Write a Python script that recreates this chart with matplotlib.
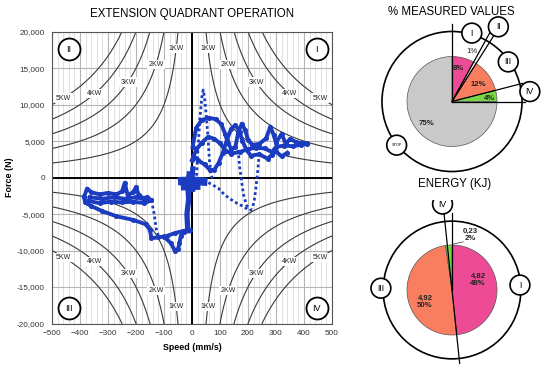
import matplotlib
matplotlib.use('Agg')
import matplotlib.pyplot as plt
import numpy as np
from matplotlib.patches import Circle
from matplotlib.ticker import MultipleLocator, FuncFormatter

plt.rcParams['font.family'] = ['Liberation Sans', 'DejaVu Sans']

# ---- data ----
powers_kw = [1, 2, 3, 4, 5]
label_forces = [17700, 15500, 13100, 11500, 10900]   # where the kW labels sit on the curves
x_ticks = np.arange(-500, 501, 100)
y_ticks = np.arange(-20000, 20001, 5000)

# measured traces (speed mm/s, force N)
q3_band_low = [(-385, -2600), (-382, -3400), (-360, -3900), (-320, -4600), (-270, -5300),
               (-210, -5800), (-165, -6400), (-150, -7200), (-145, -8300), (-120, -8200),
               (-90, -8000), (-60, -7600), (-30, -7300), (-8, -7200)]
q3_loop_top = [(-385, -2600), (-375, -1500), (-360, -2000), (-330, -2300), (-300, -2100),
               (-270, -2300), (-250, -1900), (-240, -700), (-230, -2400), (-210, -2000),
               (-200, -1300), (-190, -2400), (-175, -2800), (-160, -2700), (-145, -3100)]
q3_loop_mid = [(-370, -3200), (-330, -3500), (-290, -3300), (-250, -3400), (-210, -3300),
               (-170, -3500), (-145, -3100)]
q3_loop_inner = [(-365, -2700), (-320, -2900), (-280, -2700), (-240, -2900), (-200, -2700),
                 (-165, -3000)]
q3_loop_down = [(-100, -8100), (-75, -9000), (-62, -10000), (-50, -9800), (-45, -9000),
                (-40, -8000), (-30, -7400)]
core_vert = [(-15, -7300), (-18, -5000), (-12, -3000), (-15, -1000), (-10, 500)]
core_stem = [(2, -1600), (0, 0), (3, 1200)]
core_bar1 = [(-50, -500), (0, -400), (55, -600)]
core_bar2 = [(-40, -1200), (30, -1100)]
q1_a = [(2, 4200), (15, 6800), (35, 7900), (60, 8200), (85, 8000), (105, 7300), (118, 6000),
        (128, 4800), (140, 3900), (155, 4200), (165, 6200), (178, 7400), (190, 6500),
        (200, 5200), (215, 4500), (240, 4600), (265, 5400), (280, 7000), (292, 5800),
        (300, 4800), (320, 6000), (335, 4600), (350, 5300), (370, 4900), (390, 4700), (410, 4700)]
q1_b = [(0, 2400), (15, 3800), (35, 4800), (58, 5600), (80, 5300), (100, 4700), (120, 3700),
        (140, 3300), (170, 3500), (200, 3900), (230, 4100), (260, 4000), (285, 3500),
        (300, 4200), (330, 4400), (360, 4300), (390, 4500), (410, 4600)]
q1_c = [(5, 3000), (20, 2400), (45, 1800), (65, 1000), (80, 1100), (95, 2000), (110, 3400),
        (125, 5200), (140, 6700), (155, 7200), (170, 6300), (180, 5000), (195, 3800),
        (210, 3000), (240, 3200), (270, 2600), (285, 3100), (300, 3600), (320, 2900), (340, 3400)]
dot_spike = [(15, -500), (20, 3000), (28, 8000), (35, 11000), (40, 12000), (45, 11000),
             (52, 8000), (58, 5000), (62, 2500), (68, 500), (75, -500)]
dot_q4_a = [(40, -400), (70, -900), (95, -1500), (115, -2300), (135, -2900), (160, -3500),
            (185, -4000), (205, -4500), (215, -4400)]
dot_q4_b = [(165, 3800), (170, 1500), (178, -800), (185, -2500), (195, -3800), (205, -4300)]
dot_q4_c = [(240, 3300), (235, 1000), (228, -1500), (222, -3200), (215, -4300)]
dot_q3_drop = [(-145, -3100), (-135, -5000), (-128, -7000), (-120, -8000)]

# pies
measured_labels = ['8%', '1%', '12%', '4%', '75%']
measured_values = [8, 1, 12, 4, 75]
energy_labels = ['4,82\n48%', '4,92\n50%', '0,23\n2%']
energy_values = [4.82, 4.92, 0.23]

PINK, SALMON, GREEN, GREY = '#ee4b96', '#f87e5f', '#79d746', '#c9c9c9'
BLUE = '#1b3cc0'

fig = plt.figure(figsize=(5.5, 3.72), dpi=100)
ax = fig.add_axes([52 / 550, 1 - 323.5 / 372, 280 / 550, 291.8 / 372])

ax.set_xlim(-500, 500)
ax.set_ylim(-20000, 20000)
ax.xaxis.set_minor_locator(MultipleLocator(20))
ax.set_xticks(x_ticks)
ax.set_yticks(y_ticks)
ax.yaxis.set_major_formatter(FuncFormatter(lambda v, p: f'{int(v):,}'))
ax.grid(which='major', color='#b4b4b4', lw=0.8)
ax.grid(which='minor', axis='x', color='#d4d4d4', lw=0.5)
ax.set_axisbelow(True)
ax.tick_params(which='both', length=0, labelsize=5.9, colors='#333333', pad=5)
for s in ax.spines.values():
    s.set_color('#555555')
    s.set_linewidth(0.8)
ax.axhline(0, color='black', lw=1.4, zorder=2)
ax.axvline(0, color='black', lw=1.4, zorder=2)

# iso-power curves
for p, fl in zip(powers_kw, label_forces):
    v = np.linspace(p * 50, 500, 200)
    f = p * 1e6 / v
    for sx, sy in [(1, 1), (-1, 1), (-1, -1), (1, -1)]:
        ax.plot(sx * v, sy * f, color='#3a3a3a', lw=0.8, zorder=2)
        ax.text(sx * p * 1e6 / fl, sy * fl, f'{p}KW', fontsize=5, ha='center', va='center',
                color='#222222', zorder=3,
                bbox=dict(facecolor='white', edgecolor='none', pad=0.8))

# measured traces
for tr in [q3_band_low, q3_loop_top, q3_loop_mid, q3_loop_inner, q3_loop_down, q1_a, q1_b, q1_c]:
    xs, ys = zip(*tr)
    ax.plot(xs, ys, color=BLUE, lw=2.8, marker='o', ms=2.6, solid_joinstyle='round', zorder=4)
for tr in [core_vert, core_stem]:
    xs, ys = zip(*tr)
    ax.plot(xs, ys, color=BLUE, lw=3.8, zorder=4)
for tr in [core_bar1, core_bar2]:
    xs, ys = zip(*tr)
    ax.plot(xs, ys, color=BLUE, lw=6, solid_capstyle='butt', zorder=4)
for tr in [dot_spike, dot_q4_a, dot_q4_b, dot_q4_c, dot_q3_drop]:
    xs, ys = zip(*tr)
    ax.plot(xs, ys, color=BLUE, lw=2, ls=(0, (1, 1)), zorder=4)

# quadrant markers
for qx, qy, q in [(445, 17600, 'I'), (-440, 17600, 'II'), (-440, -17900, 'III'), (445, -17900, 'IV')]:
    ax.scatter([qx], [qy], s=250, facecolor='white', edgecolor='black', lw=1.3, zorder=5)
    ax.text(qx, qy, q, fontsize=6.5, ha='center', va='center', zorder=6)

ax.set_xlabel('Speed (mm/s)', fontsize=6.4, fontweight='bold', labelpad=4)
ax.set_ylabel('Force (N)', fontsize=6.4, fontweight='bold', labelpad=2)
fig.text(192 / 550, 1 - 14 / 372, 'EXTENSION QUADRANT OPERATION', ha='center', va='center', fontsize=8.3)


def pie_axes(cx, cy):
    a = fig.add_axes([(cx - 90) / 550, 1 - (cy + 90) / 372, 180 / 550, 180 / 372])
    a.axis('off')
    return a


def fix_limits(a):
    a.set_xlim(-2, 2)
    a.set_ylim(-2, 2)
    a.set_aspect('equal')


def ring_label(a, x, y, txt, fs=6.3):
    a.add_patch(Circle((x, y), 0.22, facecolor='white', edgecolor='black', lw=1.2, zorder=6))
    a.text(x, y, txt, fontsize=fs, ha='center', va='center', zorder=7)


# top pie
pa = pie_axes(452, 101.5)
pa.pie(measured_values, startangle=90, counterclock=False, radius=1,
       colors=[PINK, 'white', SALMON, GREEN, GREY],
       wedgeprops=dict(edgecolor='#555555', lw=0.5))
fix_limits(pa)
pa.add_patch(Circle((0, 0), 1.556, fill=False, edgecolor='black', lw=1.2, zorder=3))
for ang, ln in [(90, 1.73), (61.2, 1.78), (57.6, 1.78), (14.4, 1.62), (0, 1.62)]:
    r = np.deg2rad(ang)
    pa.plot([0, ln * np.cos(r)], [0, ln * np.sin(r)], color='black', lw=0.9, zorder=4)
for (lx, ly), t in zip([(0.14, 0.74), (0.44, 1.11), (0.58, 0.37), (0.84, 0.07), (-0.56, -0.48)],
                       measured_labels):
    pa.text(lx, ly, t, fontsize=5.6, ha='center', va='center', color='#222222',
            fontweight='normal' if t == '1%' else 'bold', zorder=5)
ring_label(pa, 0.44, 1.52, 'I')
ring_label(pa, 1.03, 1.66, 'II')
ring_label(pa, 1.25, 0.88, 'III')
ring_label(pa, 1.73, 0.22, 'IV')
ring_label(pa, -1.23, -0.97, 'STOP', fs=2.8)
fig.text(451 / 550, 1 - 12 / 372, '% MEASURED VALUES', ha='center', va='center', fontsize=8.3)

# energy pie
ea = pie_axes(452, 290)
ea.pie(energy_values, startangle=90, counterclock=False, radius=1,
       colors=[PINK, SALMON, GREEN], wedgeprops=dict(edgecolor='#555555', lw=0.5))
fix_limits(ea)
ea.add_patch(Circle((0, 0), 1.53, fill=False, edgecolor='black', lw=1.2, zorder=3))
cut = 90 - 360 * energy_values[0] / sum(energy_values)
r = np.deg2rad(cut)
ea.plot([1.64 * np.cos(r), -1.79 * np.cos(r)], [1.64 * np.sin(r), -1.79 * np.sin(r)],
        color='black', lw=0.9, zorder=4)
ea.plot([0, 0], [0, 1.71], color='black', lw=0.9, zorder=4)
ea.plot([0.25, 0.03], [1.07, 1.02], color='#333333', lw=0.5, zorder=4)
for (lx, ly), t in zip([(0.58, 0.22), (-0.6, -0.26), (0.4, 1.22)], energy_labels):
    ea.text(lx, ly, t, fontsize=5.6, ha='center', va='center', color='#222222',
            fontweight='bold', linespacing=1.1, zorder=5)
ring_label(ea, 1.51, 0.11, 'I')
ring_label(ea, -1.58, 0.04, 'III')
ring_label(ea, -0.21, 1.91, 'IV')
fig.text(455 / 550, 1 - 184 / 372, 'ENERGY (KJ)', ha='center', va='center', fontsize=8.3)

plt.savefig('out.png', dpi=100)
